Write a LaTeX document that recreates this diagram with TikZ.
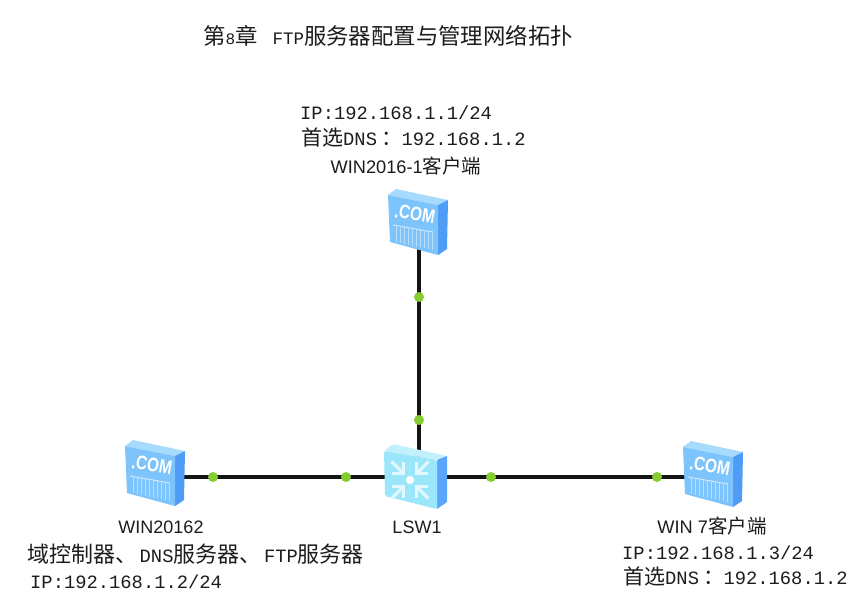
\documentclass[tikz,border=0pt]{standalone}
\usepackage{fontspec}
\setmainfont{Liberation Sans}
\setmonofont{Liberation Mono}
\newfontfamily\cjk{Noto Sans CJK SC}
\newcommand{\mm}[1]{{\ttfamily\fontsize{18.8}{20}\selectfont #1}}
\newcommand{\cj}[1]{{\cjk\fontsize{22}{24}\selectfont #1}}
\newcommand{\cjs}[1]{{\cjk\fontsize{21}{24}\selectfont #1}}
\newcommand{\dnsline}{\cjs{首选}\mm{DNS}\hspace{4.5pt}\cjs{：}\hspace{-1pt}\mm{192.168.1.2}}
\definecolor{srvfront}{HTML}{7CC4FB}
\definecolor{srvtop}{HTML}{A6DBFD}
\definecolor{srvside}{HTML}{4E9CF5}
\definecolor{swfront}{HTML}{9BE6FB}
\definecolor{swtop}{HTML}{C2F0FD}
\definecolor{swside}{HTML}{5AA6FA}
\definecolor{dotgreen}{HTML}{85CC30}
\definecolor{txt}{HTML}{1C1C1C}
\tikzset{
  lbl/.style={inner sep=0pt,text=txt,anchor=center},
  llbl/.style={inner sep=0pt,text=txt,anchor=west},
  link/.style={line width=3.3pt,black!92},
  port/.style={circle,fill=dotgreen,inner sep=0pt,minimum size=10pt},
  anchorbox/.style={inner sep=0pt,minimum size=0pt},
}
\newcommand{\serverat}[2]{%
 \begin{scope}[shift={(#1,#2)}]
  \fill[srvtop] (-30,-28) -- (-22,-34) -- (30,-23) -- (20,-18) -- cycle;
  \fill[srvside] (20,-18) -- (30,-23) -- (29,26) -- (20,32) -- cycle;
  \fill[srvfront] (-30,-28) -- (20,-18) -- (20,32) -- (-28,19) -- cycle;
  \node[rotate=-10,yscale=1.25,text=white,inner sep=0pt] at (-3,-9) {\fontsize{15.5}{15}\selectfont\bfseries .COM};
  \draw[white!65!srvfront,line width=1pt] (-25,2) -- (15,9);
  \foreach \xx in {-22,-18,-14,-10,-6,-2,2,6,10,14}
    \draw[white!45!srvfront,line width=1pt] (\xx,{0.18*\xx+6}) -- (\xx,{0.22*\xx+24});
 \end{scope}}
\newcommand{\switchat}[2]{%
 \begin{scope}[shift={(#1,#2)}]
  \fill[swtop,rounded corners=2pt] (-32,-26) -- (-23,-33) -- (31,-21) -- (21,-17) -- cycle;
  \fill[swside] (21,-17) -- (31,-21) -- (31,25) -- (21,32) -- cycle;
  \fill[swfront,rounded corners=2pt] (-32,-26) -- (21,-17) -- (21,32) -- (-31,19) -- cycle;
  \fill[white] (-6,3) circle (4);
  \foreach \a in {45,135,225,315}{
    \begin{scope}[shift={(-6,3)},rotate=\a]
     \draw[white!70!swfront,line width=3.2pt] (9,0) -- (26,0);
     \draw[white!70!swfront,line width=2.6pt] (17,-8) -- (9,0) -- (17,8);
    \end{scope}}
 \end{scope}}
\begin{document}
\begin{tikzpicture}[x=1pt,y=-1pt]
\useasboundingbox (0,0) rectangle (864,606);
\fill[white] (0,0) rectangle (864,606);
\node[anchorbox] (pc1) at (419,223) {};
\node[anchorbox] (srv) at (155,477) {};
\node[anchorbox] (pc3) at (713,477) {};
\node[anchorbox] (sw) at (419,477) {};
\draw[link] (pc1) -- (sw);
\draw[link] (srv) -- (sw);
\draw[link] (sw) -- (pc3);
\serverat{418}{223}
\serverat{155}{474}
\serverat{713}{475}
\switchat{416}{477}
\node[port] (p1) at (419,297) {};
\node[port] (p2) at (419,420) {};
\node[port] (p3) at (213,477) {};
\node[port] (p4) at (346,477) {};
\node[port] (p5) at (491,477) {};
\node[port] (p6) at (657,477) {};
\node[llbl] (title) at (203,36) {\cjk\fontsize{22.4}{24}\selectfont 第{\ttfamily\fontsize{16}{20}\selectfont 8}章\hspace{15pt}{\ttfamily\fontsize{17.5}{20}\selectfont FTP}服务器配置与管理网络拓扑};
\node[llbl] (ip1) at (300,113) {\mm{IP:192.168.1.1/24}};
\node[llbl] (dns1) at (301,137) {\dnsline};
\node[lbl] (name1) at (406,166) {\fontsize{18.2}{20}\selectfont WIN2016-1{\cjk\fontsize{19.5}{20}\selectfont 客户端}};
\node[lbl] (name2) at (161,527) {\fontsize{18}{20}\selectfont WIN20162};
\node[llbl] (role2) at (27,554) {\cj{域控制器、}\hspace{2.5pt}\mm{DNS}\cj{服务器、}\hspace{2.5pt}\mm{FTP}\cj{服务器}};
\node[llbl] (ip2) at (30,582) {\mm{IP:192.168.1.2/24}};
\node[lbl] (name4) at (417,527) {\fontsize{18}{20}\selectfont LSW1};
\node[lbl] (name3) at (712,526) {\fontsize{18.2}{20}\selectfont WIN 7{\cjk\fontsize{19.5}{20}\selectfont 客户端}};
\node[llbl] (ip3) at (622,553) {\mm{IP:192.168.1.3/24}};
\node[llbl] (dns3) at (623,576) {\dnsline};
\end{tikzpicture}
\end{document}
